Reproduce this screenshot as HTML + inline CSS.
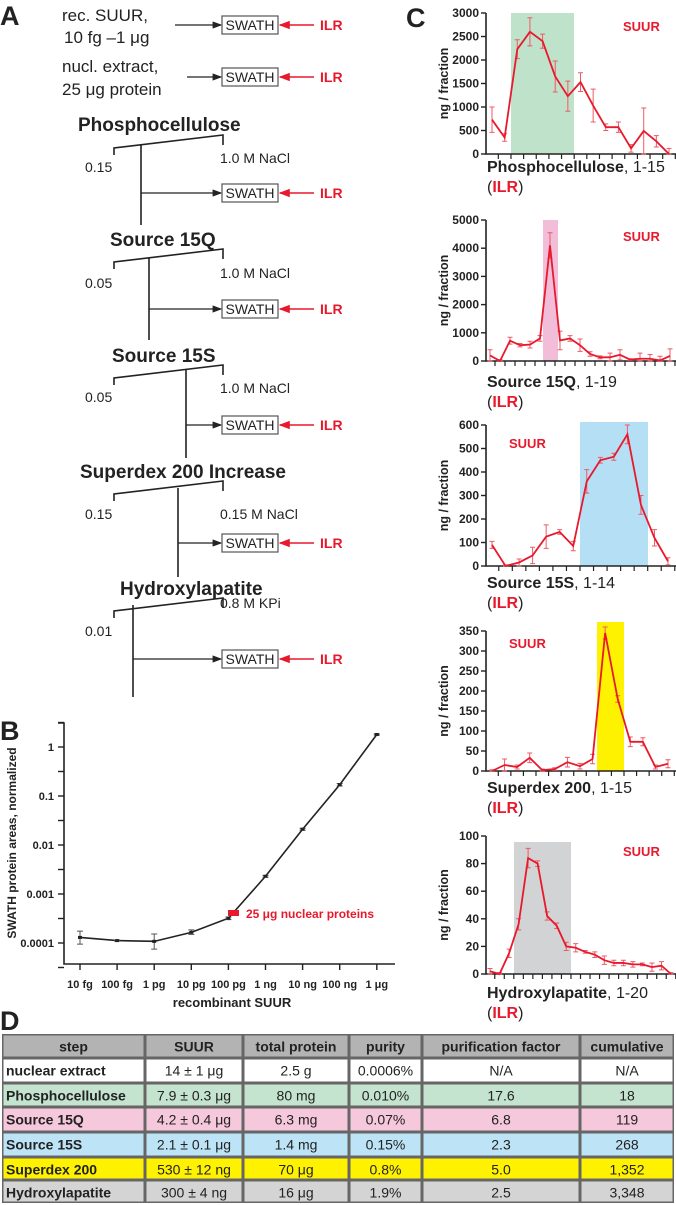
<!DOCTYPE html>
<html><head><meta charset="utf-8"><style>
body{margin:0;background:#fff;width:676px;height:1205px;overflow:hidden}
svg{display:block;font-family:"Liberation Sans",sans-serif}
</style></head><body>
<svg id="fig" width="676" height="1205" viewBox="0 0 676 1205">
<defs>
<marker id="ak" markerWidth="8" markerHeight="6" refX="7" refY="3" orient="auto"><path d="M0,0L8,3L0,6z" fill="#222"/></marker>
<marker id="ar" markerWidth="8" markerHeight="6" refX="7" refY="3" orient="auto"><path d="M0,0L8,3L0,6z" fill="#e8192c"/></marker>
</defs>
<g id="panelA"></g>
<g id="panelB"></g>
<g id="panelC"></g>
<g id="panelD"></g>
</svg>
<script>
// ---- Panel B data ----
const bCats = ["10 fg","100 fg","1 pg","10 pg","100 pg","1 ng","10 ng","100 ng","1 μg"];
const bVals = [1.3e-4,1.12e-4,1.08e-4,1.65e-4,3.2e-4,2.3e-3,2.1e-2,1.7e-1,1.8];
const bErrLo = [0.35e-4,0.03e-4,0.33e-4,0.15e-4,0.2e-4,0.1e-3,0.1e-2,0.1e-1,0.05];
const bErrHi = [0.45e-4,0.03e-4,0.45e-4,0.2e-4,0.2e-4,0.1e-3,0.1e-2,0.1e-1,0.05];
const bTickVals = [1,0.1,0.01,0.001,0.0001];
const bTickLabels = ["1","0.1","0.01","0.001","0.0001"];
// ---- Panel C data ----
const c1Vals=[730,350,2230,2600,2400,1650,1230,1530,1030,570,570,120,490,270,0];
const c1Err=[270,80,200,300,150,330,320,200,350,70,110,80,490,120,120];
const c1Ticks=[0,500,1000,1500,2000,2500,3000];
const c2Vals=[200,0,720,560,580,800,4100,730,800,560,250,130,130,220,50,80,80,20,180];
const c2Err=[200,50,120,60,120,100,450,330,100,220,80,50,150,180,30,200,150,150,250];
const c2Ticks=[0,1000,2000,3000,4000,5000];
const c3Vals=[90,0,15,45,125,145,85,360,450,465,560,260,120,20];
const c3Err=[15,5,15,35,50,10,20,50,12,15,40,40,35,15];
const c3Ticks=[0,100,200,300,400,500,600];
const c4Vals=[0,15,10,33,2,5,22,12,30,345,180,73,73,10,18];
const c4Err=[3,15,5,12,3,3,12,7,12,15,8,12,10,5,10];
const c4Ticks=[0,50,100,150,200,250,300,350];
const c5Vals=[2,0,15,36,84,80,42,35,20,19,16,14,10,8,8,7,7,5,6,0];
const c5Err=[2,1,3,4,7,2,3,2,3,3,1,2,3,2,2,2,1,3,3,1];
const c5Ticks=[0,20,40,60,80,100];
// ---- Panel D data ----
const dHeader=["step","SUUR","total protein","purity","purification factor","cumulative"];
const dRows=[
["nuclear extract","14 ± 1 μg","2.5 g","0.0006%","N/A","N/A"],
["Phosphocellulose","7.9 ± 0.3 μg","80 mg","0.010%","17.6","18"],
["Source 15Q","4.2 ± 0.4 μg","6.3 mg","0.07%","6.8","119"],
["Source 15S","2.1 ± 0.1 μg","1.4 mg","0.15%","2.3","268"],
["Superdex 200","530 ± 12 ng","70 μg","0.8%","5.0","1,352"],
["Hydroxylapatite","300 ± 4 ng","16 μg","1.9%","2.5","3,348"]];

const NS="http://www.w3.org/2000/svg";
function mk(parent,tag,attrs,text){const e=document.createElementNS(NS,tag);for(const k in attrs)e.setAttribute(k,attrs[k]);if(text!==undefined)e.textContent=text;parent.appendChild(e);return e;}
const RED="#e8192c";

// ===== Panel A =====
const A=document.getElementById('panelA');
let t=mk(A,'text',{x:0,y:25,'font-size':27,'font-weight':'bold',fill:'#222'},'A');

function swath(y,x0){
  let l=mk(A,'line',{x1:x0,y1:y,x2:221,y2:y,stroke:'#222','stroke-width':1.2,'marker-end':'url(#ak)'});
  
  let r=mk(A,'rect',{x:222,y:y-9,width:56,height:18,fill:'#fff',stroke:'#555','stroke-width':1.2});
  
  let s=mk(A,'text',{x:250,y:y+5,'font-size':14,'text-anchor':'middle',fill:'#222'},'SWATH');
  
  let ra=mk(A,'line',{x1:314,y1:y,x2:280,y2:y,stroke:RED,'stroke-width':1.4,'marker-end':'url(#ar)'});
  
  let it=mk(A,'text',{x:320,y:y+5,'font-size':14,'font-weight':'bold',fill:RED},'ILR');
  
}
function txt(parent,x,y,s,size,bold,name,anchor,fill){let e=mk(parent,'text',{x:x,y:y,'font-size':size,'font-weight':bold?'bold':'normal',fill:fill||'#222','text-anchor':anchor||'start'},s);return e;}
txt(A,62,21,'rec. SUUR,',17,false,'rec-suur-label');
txt(A,64,43,'10 fg –1 μg',17,false,'rec-suur-range');
swath(25,175);
txt(A,62,72,'nucl. extract,',17,false,'nuclear-extract-label');
txt(A,62,95,'25 μg protein',17,false,'nuclear-extract-amount');
swath(77,187);
const steps=[
 {name:'Phosphocellulose',nx:78,ny:131,gy:148,low:'0.15',high:'1.0 M NaCl',hy:163,vx:141,v1:145,v2:225,sy:193,ly:172},
 {name:'Source 15Q',nx:110,ny:246,gy:262,low:'0.05',high:'1.0 M NaCl',hy:278,vx:149,v1:258,v2:340,sy:309,ly:288},
 {name:'Source 15S',nx:112,ny:362,gy:378,low:'0.05',high:'1.0 M NaCl',hy:393,vx:186,v1:370,v2:458,sy:425,ly:402},
 {name:'Superdex 200 Increase',nx:80,ny:478,gy:494,low:'0.15',high:'0.15 M NaCl',hy:519,vx:178,v1:488,v2:577,sy:543,ly:519},
 {name:'Hydroxylapatite',nx:120,ny:595,gy:611,low:'0.01',high:'0.8 M KPi',hy:608,vx:133,v1:605,v2:697,sy:659,ly:636}];
steps.forEach(s=>{
  txt(A,s.nx,s.ny,s.name,19,true,'column-name');
  let p=mk(A,'path',{d:`M114,${s.gy+7}V${s.gy}L223,${s.gy-13}V${s.gy-3}`,fill:'none',stroke:'#222','stroke-width':1.6});
  
  txt(A,85,s.ly,s.low,14,false,'gradient-start');
  txt(A,220,s.hy,s.high,14,false,'gradient-end');
  let v=mk(A,'line',{x1:s.vx,y1:s.v1,x2:s.vx,y2:s.v2,stroke:'#222','stroke-width':1.6});
  
  swath(s.sy,s.vx);
});

// ===== Panel B =====
const B=document.getElementById('panelB');
txt(B,0,740,'B',27,true,'panel-b-label');
const bx0=64,bxEnd=395,byTop=723,byBot=964;
const bxPos=i=>80+i*37.1;
const byPos=v=>943-(Math.log10(v)+4)*49;
let ax=mk(B,'path',{d:`M${bx0-6},${byTop}H${bx0}V${byBot}H${bxEnd}`,fill:'none',stroke:'#222','stroke-width':1.6});

for(let k=-4.5;k<=0.5;k+=0.5){let y=byPos(Math.pow(10,k));if(y<byTop-1)continue;let tk=mk(B,'line',{x1:bx0-6,y1:y,x2:bx0,y2:y,stroke:'#222','stroke-width':1.4});}
bTickVals.forEach((v,i)=>{txt(B,bx0-10,byPos(v)+4,bTickLabels[i],11,true,'b-y-tick-label','end');});
bCats.forEach((c,i)=>{let tk=mk(B,'line',{x1:bxPos(i),y1:byBot,x2:bxPos(i),y2:byBot+6,stroke:'#222','stroke-width':1.4});
 txt(B,bxPos(i),988,c,11,true,'b-x-tick-label','middle');});
txt(B,232,1007,'recombinant SUUR',13,true,'b-x-axis-title','middle');
let yt=txt(B,0,0,'SWATH protein areas, normalized',12,true,'b-y-axis-title','middle');yt.setAttribute('transform','translate(16,843) rotate(-90)');
let bl=mk(B,'polyline',{points:bVals.map((v,i)=>bxPos(i)+','+byPos(v)).join(' '),fill:'none',stroke:'#222','stroke-width':1.6});

bVals.forEach((v,i)=>{const x=bxPos(i),y1=byPos(v+bErrHi[i]),y2=byPos(v-bErrLo[i]);
 let e=mk(B,'path',{d:`M${x},${y1}V${y2}M${x-3},${y1}H${x+3}M${x-3},${y2}H${x+3}`,stroke:'#555','stroke-width':1,fill:'none'});
 
 let p=mk(B,'rect',{x:x-2,y:byPos(v)-1.5,width:4,height:3,fill:'#222'});});
let rs=mk(B,'rect',{x:228,y:910,width:11,height:6,fill:RED});
txt(B,246,918,'25 μg nuclear proteins',12,true,'nuclear-protein-label','start',RED);

// ===== Panel C =====
const C=document.getElementById('panelC');
txt(C,406,27,'C',27,true,'panel-c-label');
const charts=[
 {vals:c1Vals,err:c1Err,ticks:c1Ticks,max:3000,yT:13,yB:154,x0:492,x1:669,sh:[511,574,13],col:'#bfe2cb',suur:[623,31],name:'Phosphocellulose',rng:', 1-15',ly:172},
 {vals:c2Vals,err:c2Err,ticks:c2Ticks,max:5000,yT:220,yB:361,x0:490,x1:670,sh:[543,558,220],col:'#f2bdd8',suur:[623,241],name:'Source 15Q',rng:', 1-19',ly:387},
 {vals:c3Vals,err:c3Err,ticks:c3Ticks,max:600,yT:425,yB:566,x0:492,x1:668,sh:[580,648,422],col:'#b5dff5',suur:[509,448],name:'Source 15S',rng:', 1-14',ly:588},
 {vals:c4Vals,err:c4Err,ticks:c4Ticks,max:350,yT:631,yB:771,x0:492,x1:668,sh:[597,624,622],col:'#fff200',suur:[509,648],name:'Superdex 200',rng:', 1-15',ly:793},
 {vals:c5Vals,err:c5Err,ticks:c5Ticks,max:100,yT:836,yB:974,x0:490,x1:671,sh:[514,571,842],col:'#d1d3d4',suur:[623,856],name:'Hydroxylapatite',rng:', 1-20',ly:998}];
charts.forEach((c,ci)=>{
  const g=mk(C,'g',{});
  const n=c.vals.length,step=(c.x1-c.x0)/(n-1);
  const xp=i=>c.x0+i*step, yp=v=>c.yB-(v/c.max)*(c.yB-c.yT);
  let sh=mk(g,'rect',{x:c.sh[0],y:c.sh[2],width:c.sh[1]-c.sh[0],height:c.yB-c.sh[2],fill:c.col});
  let a=mk(g,'path',{d:`M486,${c.yT}V${c.yB}H676`,fill:'none',stroke:'#222','stroke-width':1.6});
  c.ticks.forEach(v=>{let tk=mk(g,'line',{x1:481,y1:yp(v),x2:486,y2:yp(v),stroke:'#222','stroke-width':1.4});
   txt(g,479,yp(v)+4,String(v),12,true,'c-y-tick-label','end');});
  for(let i=0;i<n;i++){let tk=mk(g,'line',{x1:xp(i)+step/2,y1:c.yB,x2:xp(i)+step/2,y2:c.yB+5,stroke:'#222','stroke-width':1.2});}
  let yl=txt(g,0,0,'ng / fraction',12.5,true,'c-y-axis-title','middle');yl.setAttribute('transform',`translate(${448},${(c.yT+c.yB)/2}) rotate(-90)`);
  c.vals.forEach((v,i)=>{const x=xp(i),y1=yp(v+c.err[i]),y2=yp(Math.max(0,v-c.err[i]));
   let e=mk(g,'path',{d:`M${x},${y1}V${y2}M${x-2.5},${y1}H${x+2.5}M${x-2.5},${y2}H${x+2.5}`,stroke:'#ee5a66','stroke-width':1,fill:'none'});
   });
  let l=mk(g,'polyline',{points:c.vals.map((v,i)=>xp(i)+','+yp(v)).join(' '),fill:'none',stroke:RED,'stroke-width':1.8});
  
  txt(g,c.suur[0],c.suur[1],'SUUR',13,true,'suur-label','start',RED);
  const lt=mk(g,'text',{x:487,y:c.ly,'font-size':16,fill:'#222'});
  mk(lt,'tspan',{'font-weight':'bold'},c.name);mk(lt,'tspan',{},c.rng);
  const l2=mk(g,'text',{x:487,y:c.ly+20,'font-size':16,fill:'#222'});
  mk(l2,'tspan',{},'(');mk(l2,'tspan',{'font-weight':'bold',fill:RED},'ILR');mk(l2,'tspan',{},')');
});

// ===== Panel D =====
const D=document.getElementById('panelD');
txt(D,0,1030,'D',27,true,'panel-d-label');
const colX=[2,145,243,349,422,580,674];
const rowY=[1034,1058,1083,1107,1132,1157,1180,1203];
const rowFill=['#b3b3b3','#ffffff','#c5e4cf','#f5c8dc','#bde4f6','#fff200','#d4d4d4'];
let tb=mk(D,'rect',{x:2,y:1034,width:672,height:169,fill:'#666'});
[dHeader].concat(dRows).forEach((row,r)=>{
  row.forEach((cell,ci)=>{
    let rc=mk(D,'rect',{x:colX[ci]+1.5,y:rowY[r]+1.5,width:colX[ci+1]-colX[ci]-3,height:rowY[r+1]-rowY[r]-3,fill:rowFill[r]});
    
    const first=ci===0&&r>0;
    txt(D,first?colX[0]+4:(colX[ci]+colX[ci+1])/2,rowY[r]+17.5,cell,first?14:14,r===0||first,r===0?'table-header':'table-cell-text',first?'start':'middle');
  });
});
</script>
</body></html>
